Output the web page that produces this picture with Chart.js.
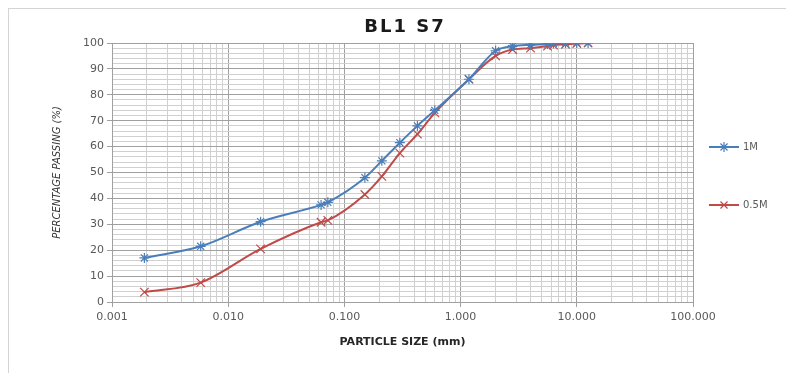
<!DOCTYPE html>
<html>
<head>
<meta charset="utf-8">
<script src="https://cdn.jsdelivr.net/npm/chart.js@4/dist/chart.umd.min.js"></script>
<style>
  html, body { margin: 0; padding: 0; background: #fff; overflow: hidden; }
  #wrap { position: relative; width: 786px; height: 373px; }
  #frame { position: absolute; left: 8px; top: 8px; width: 800px; height: 400px; border: 1px solid #d4d4d4; }
  canvas { position: absolute; left: 0; top: 0; }
</style>
</head>
<body>
<div id="wrap">
  <div id="frame"></div>
  <canvas id="grading" width="786" height="373"></canvas>
</div>
<script>
/* grading curve BL1 S7 */
const SIZES_MM   = [0.0019, 0.0058, 0.019, 0.063, 0.072, 0.15, 0.21, 0.30, 0.425, 0.60, 1.18, 2.0, 2.8, 4.0, 5.6, 6.3, 8.0, 10.0, 12.5];
const PASS_1M    = [17.0, 21.5, 31.0, 37.5, 38.5, 48.0, 54.5, 61.5, 68.0, 74.0, 86.0, 97.0, 98.8, 99.3, 99.6, 99.8, 100, 100, 100];
const PASS_05M   = [3.8, 7.5, 20.5, 30.8, 31.5, 41.5, 48.5, 57.5, 64.8, 73.0, 86.0, 95.0, 97.5, 98.0, 98.8, 99.2, 99.5, 99.8, 100];
const SERIES     = ['1M', '0.5M'];
const X_DECADES  = [0.001, 0.01, 0.1, 1, 10, 100];
const Y_TICKS    = [0, 10, 20, 30, 40, 50, 60, 70, 80, 90, 100];

const COLORS = {
  blue     : '#4a7ebb',
  red      : '#be4b48',
  major    : '#a0a0a0',
  minor    : '#d0d0d0',
  text     : '#595959',
  title    : '#1a1a1a',
};

const FONT = 'DejaVu Sans';

const isDecade = v => X_DECADES.some(d => Math.abs(v / d - 1) < 1e-6);

// log ticks: 1..9 in every decade
function logTicks() {
  const out = [];
  X_DECADES.forEach((d, i) => {
    if (i === X_DECADES.length - 1) { out.push({ value: d }); return; }
    for (let m = 1; m <= 9; m++) out.push({ value: +(d * m).toPrecision(6) });
  });
  return out;
}

// y ticks every 2, labels every 10
function yTicks() {
  const out = [];
  for (let v = 0; v <= 100; v += 2) out.push({ value: v });
  return out;
}

/* title + legend drawn on the canvas ──────────────────────────────────────── */
const extrasPlugin = {
  id: 'extras',
  afterDraw(chart) {
    const ctx = chart.ctx;
    ctx.save();
    ctx.fillStyle = COLORS.title;
    ctx.font = `bold 18px "${FONT}"`;
    ctx.letterSpacing = '2px';
    ctx.textAlign = 'center';
    ctx.textBaseline = 'middle';
    ctx.fillText('BL1 S7', 405, 27);
    ctx.letterSpacing = '0px';

    const rows = [
      { label: SERIES[0], color: COLORS.blue, style: 'star',     y: 147 },
      { label: SERIES[1], color: COLORS.red,  style: 'crossRot', y: 205 },
    ];
    rows.forEach(r => {
      ctx.strokeStyle = r.color;
      ctx.lineWidth = 2;
      ctx.beginPath();
      ctx.moveTo(709, r.y);
      ctx.lineTo(739, r.y);
      ctx.stroke();
      ctx.lineWidth = 1.2;
      Chart.helpers.drawPoint(ctx, { pointStyle: r.style, radius: 5, borderWidth: 1.2, rotation: 0 }, 724, r.y);
      ctx.fillStyle = COLORS.text;
      ctx.font = `10px "${FONT}"`;
      ctx.textAlign = 'left';
      ctx.fillText(r.label, 743, r.y);
    });
    ctx.restore();
  },
};

const toPoints = ys => SIZES_MM.map((x, i) => ({ x, y: ys[i] }));

new Chart(document.getElementById('grading'), {
  type: 'scatter',
  data: {
    datasets: [
      {
        label           : SERIES[0],
        data            : toPoints(PASS_1M),
        showLine        : true,
        borderColor     : COLORS.blue,
        backgroundColor : COLORS.blue,
        borderWidth     : 2,
        pointStyle      : 'star',
        pointRadius     : 5,
        pointBorderWidth: 1.2,
        cubicInterpolationMode: 'monotone',
      },
      {
        label           : SERIES[1],
        data            : toPoints(PASS_05M),
        showLine        : true,
        borderColor     : COLORS.red,
        backgroundColor : COLORS.red,
        borderWidth     : 2,
        pointStyle      : 'crossRot',
        pointRadius     : 6,
        pointBorderWidth: 1.2,
        cubicInterpolationMode: 'monotone',
      },
    ],
  },
  options: {
    responsive : false,
    animation  : false,
    layout     : { padding: { left: 20, right: 93, top: 43, bottom: 11 } },
    plugins    : { legend: { display: false }, tooltip: { enabled: false } },
    scales: {
      x: {
        type : 'logarithmic',
        min  : 0.001,
        max  : 100,
        afterBuildTicks: s => { s.ticks = logTicks(); },
        afterFit: s => { s.height = 60; },
        ticks: {
          autoSkip   : false,
          maxRotation: 0,
          padding    : 4,
          color      : COLORS.text,
          font       : { family: FONT, size: 11 },
          callback   : v => (isDecade(v) ? v.toFixed(3) : ''),
        },
        grid: {
          color     : c => (isDecade(c.tick.value) ? COLORS.major : COLORS.minor),
          tickColor : c => (isDecade(c.tick.value) ? COLORS.major : 'rgba(0,0,0,0)'),
          tickLength: 5,
        },
        border: { color: COLORS.major },
        title: {
          display: true,
          text   : 'PARTICLE SIZE (mm)',
          color  : '#262626',
          font   : { family: FONT, size: 11, weight: 'bold' },
          padding: { top: 0, bottom: 13 },
        },
      },
      y: {
        min : 0,
        max : 100,
        afterBuildTicks: s => { s.ticks = yTicks(); },
        afterFit: s => { s.width = 92; },
        ticks: {
          autoSkip: false,
          padding : 3,
          color   : COLORS.text,
          font    : { family: FONT, size: 11 },
          callback: v => (Y_TICKS.includes(v) ? String(v) : ''),
        },
        grid: {
          color     : c => (c.tick.value % 10 === 0 ? COLORS.major : COLORS.minor),
          tickColor : c => (c.tick.value % 10 === 0 ? COLORS.major : 'rgba(0,0,0,0)'),
          tickLength: 5,
        },
        border: { color: COLORS.major },
        title: {
          display: true,
          text   : 'PERCENTAGE PASSING (%)',
          color  : '#333',
          font   : { family: FONT, size: 10, style: 'italic' },
          padding: { top: 31, bottom: 0 },
        },
      },
    },
  },
  plugins: [extrasPlugin],
});
</script>
</body>
</html>
